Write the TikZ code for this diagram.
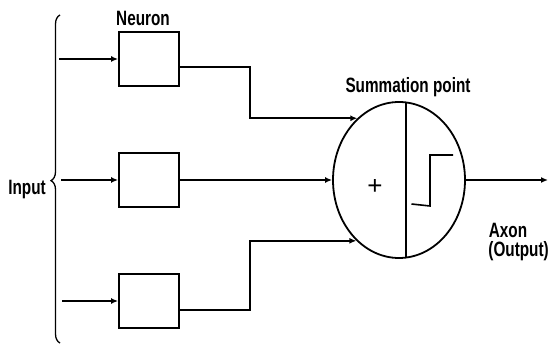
\documentclass[tikz,border=0pt]{standalone}
\usepackage{fontspec}
\setmainfont{Liberation Sans}
\usetikzlibrary{shapes.geometric,arrows.meta,decorations.pathreplacing}
\newcommand{\lbltext}[1]{\scalebox{0.9}[1.22]{#1}}
\begin{document}
\begin{tikzpicture}[x=1pt,y=-1pt,
  line width=1.8pt,
  cell/.style={draw,line width=1.8pt,minimum width=60pt,minimum height=54pt,inner sep=0pt},
  arr/.style={-{Latex[length=7pt,width=6pt]}},
  lbl/.style={inner sep=0pt,font=\bfseries\fontsize{17}{19}\selectfont},
  ]
\useasboundingbox (0,0) rectangle (548,347);
% neurons
\node[cell] (n1) at (149,59) {};
\node[cell] (n2) at (149,180) {};
\node[cell] (n3) at (149,301) {};
% summation ellipse
\node[draw,ellipse,line width=1.8pt,minimum width=132pt,minimum height=156pt,inner sep=0pt] (s) at (399,180) {};
% input starts
\coordinate (i1) at (59,59);
\coordinate (i2) at (61,180);
\coordinate (i3) at (62,301);
\coordinate (out) at (548,180);
\draw[arr] (i1) -- (n1.west);
\draw[arr] (i2) -- (n2.west);
\draw[arr] (i3) -- (n3.west);
% neuron to summation
\draw[arr] ([yshift=-8pt]n1.east) -- (250,67) |- (s.124.5);
\draw[arr] (n2.east) -- (s.west);
\draw[arr] ([yshift=-9pt]n3.east) -- (250,310) |- (s.235.5);
% inner divider and step
\draw (406,102.5) -- (406,257.5);
\draw[line width=1.6pt] (411.5,204) -- (430,206) -- (430,155) -- (453,155);
\node[inner sep=0pt,font=\fontsize{26}{26}\selectfont] (plus) at (375,187) {+};
% output
\draw[arr] (s.east) -- (out);
% brace
\draw[line width=1.3pt,decorate,decoration={brace,amplitude=9pt,mirror,aspect=0.505}] (60,15) -- (60,343);
% labels
\node[lbl] (tn) at (143,18) {\lbltext{Neuron}};
\node[lbl] (ti) at (27,190) {\lbltext{Input}};
\node[lbl] (ts) at (408,87) {\lbltext{Summation point}};
\node[lbl,anchor=west] (ta) at (488,230) {\lbltext{Axon}};
\node[lbl,anchor=west] (to) at (487.5,251) {\lbltext{(Output)}};
\end{tikzpicture}
\end{document}
